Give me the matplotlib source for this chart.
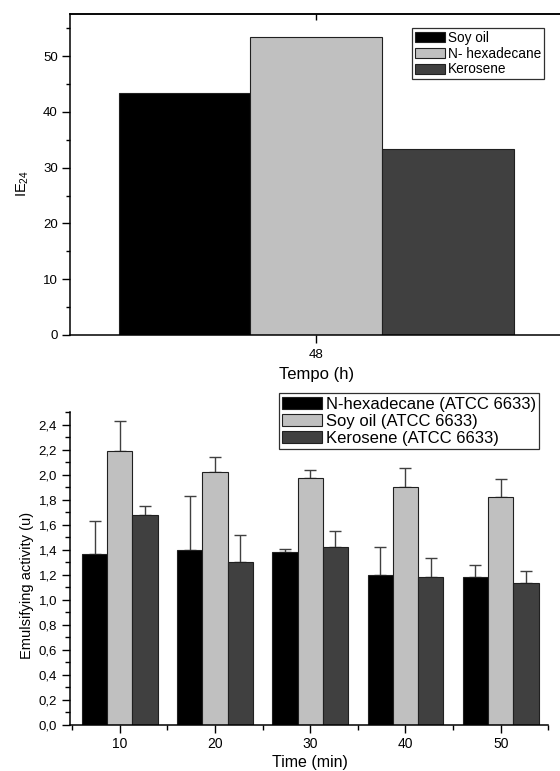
import numpy as np
import matplotlib
matplotlib.use("Agg")
import matplotlib.pyplot as plt
from matplotlib.ticker import MultipleLocator, FixedLocator

plt.rcParams['font.family'] = ['Liberation Sans', 'DejaVu Sans']
plt.rcParams['mathtext.default'] = 'regular'

# top panel: IE24 at 48 h
top_labels = ["Soy oil", "N- hexadecane", "Kerosene"]
top_values = [43.4, 53.4, 33.3]
top_time = 48

# bottom panel: emulsifying activity vs time
times = [10, 20, 30, 40, 50]
bot_labels = ["N-hexadecane (ATCC 6633)", "Soy oil (ATCC 6633)", "Kerosene (ATCC 6633)"]
hexa = [1.37, 1.40, 1.38, 1.20, 1.18]
hexa_err = [0.26, 0.43, 0.024, 0.22, 0.096]
soy = [2.19, 2.02, 1.975, 1.90, 1.82]
soy_err = [0.24, 0.12, 0.06, 0.155, 0.147]
kero = [1.675, 1.30, 1.42, 1.18, 1.135]
kero_err = [0.075, 0.216, 0.134, 0.152, 0.093]
ytick_vals = [0.0, 0.2, 0.4, 0.6, 0.8, 1.0, 1.2, 1.4, 1.6, 1.8, 2.0, 2.2, 2.4]
ytick_text = ["0,0", "0,2", "0,4", "0,6", "0,8", "1,0", "1,2", "1,4", "1,6", "1,8", "2,0", "2,2", "2,4"]

colors = ["#000000", "#c0c0c0", "#404040"]

W, H = 560, 771
fig = plt.figure(figsize=(W / 100, H / 100), dpi=100)

def px(x0, y0, x1, y1):
    return [x0 / W, 1 - y1 / H, (x1 - x0) / W, (y1 - y0) / H]

# ---- top panel
ax1 = fig.add_axes(px(70.3, 14, 562, 334.7))
offsets = [-1, 0, 1]
for off, v, c, lab in zip(offsets, top_values, colors, top_labels):
    ax1.bar(top_time + off, v, width=1.0, color=c, edgecolor="#202020", linewidth=0.8, label=lab)
ax1.set_xlim(46.134, 49.866)
ax1.set_ylim(0, 57.6)
ax1.set_xticks([top_time])
ax1.set_xticklabels([str(top_time)])
ax1.yaxis.set_major_locator(MultipleLocator(10))
ax1.yaxis.set_minor_locator(MultipleLocator(5))
ax1.tick_params(axis="y", which="major", direction="out", length=6, width=1, labelsize=9.5, pad=3)
ax1.tick_params(axis="y", which="minor", direction="out", length=3, width=1)
ax1.tick_params(axis="x", which="major", direction="out", length=6, width=1, labelsize=9.5, pad=4)
top_ax = ax1.secondary_xaxis("top")
top_ax.set_xticks([top_time])
top_ax.set_xticklabels([])
top_ax.tick_params(direction="in", length=4, width=1)
top_ax.spines["top"].set_linewidth(1.1)
ax1.spines["right"].set_visible(False)
for s in ["left", "bottom", "top"]:
    ax1.spines[s].set_linewidth(1.1)
ax1.set_ylabel("IE$_{24}$", fontsize=10.5)
ax1.yaxis.set_label_coords(-0.08, 0.47)
ax1.set_xlabel("Tempo (h)", fontsize=12)
ax1.xaxis.set_label_coords((317 - 70.3) / 491.7, -(367 - 334.7) / 320.7)
leg1 = ax1.legend(loc="upper left", bbox_to_anchor=(412.3 / W, 1 - 28.3 / H),
                  bbox_transform=fig.transFigure, borderaxespad=0, fancybox=False,
                  fontsize=9.8, handlelength=2.2, handleheight=0.75, handletextpad=0.25,
                  labelspacing=0.12, borderpad=0.2, framealpha=1)
leg1.get_frame().set_edgecolor("#303030")
leg1.get_frame().set_linewidth(0.9)

# ---- bottom panel
ax2 = fig.add_axes(px(70.3, 412.3, 548.3, 724.7))
bw = 2.65
x = np.array(times, dtype=float)
series = [(hexa, hexa_err), (soy, soy_err), (kero, kero_err)]
for i, ((vals, errs), c, lab) in enumerate(zip(series, colors, bot_labels)):
    pos = x + (i - 1) * bw
    ax2.bar(pos, vals, width=bw, color=c, edgecolor="#202020", linewidth=0.8, label=lab, zorder=2)
    ax2.errorbar(pos, vals, yerr=[np.zeros(len(errs)), errs], fmt="none", ecolor="#404040",
                 elinewidth=1.0, capsize=4, capthick=1.0, zorder=1)
ax2.set_xlim(4.8, 55)
ax2.set_ylim(0, 2.5)
ax2.set_xticks(times)
ax2.xaxis.set_minor_locator(FixedLocator([5, 15, 25, 35, 45, 55]))
ax2.set_yticks(ytick_vals)
ax2.set_yticklabels(ytick_text)
ax2.yaxis.set_minor_locator(MultipleLocator(0.1))
ax2.tick_params(which="major", direction="out", length=6, width=1, labelsize=9.5)
ax2.tick_params(which="minor", direction="out", length=3.5, width=1)
ax2.tick_params(axis="x", pad=3, labelsize=10)
ax2.spines["right"].set_visible(False)
ax2.spines["top"].set_visible(False)
for s in ["left", "bottom"]:
    ax2.spines[s].set_linewidth(1.1)
ax2.set_ylabel("Emulsifying activity (u)", fontsize=10.5)
ax2.yaxis.set_label_coords(-0.075, 0.447)
ax2.set_xlabel("Time (min)", fontsize=11.5)
ax2.xaxis.set_label_coords(0.5 - (309.3 - 310) / 478, -(754.5 - 724.7) / 312.4)
leg2 = ax2.legend(loc="upper left", bbox_to_anchor=(279 / W, 1 - 393.3 / H),
                  bbox_transform=fig.transFigure, borderaxespad=0, fancybox=False,
                  fontsize=12, handlelength=2.4, handleheight=0.75, handletextpad=0.2,
                  labelspacing=0.12, borderpad=0.2, framealpha=1)
leg2.get_frame().set_edgecolor("#303030")
leg2.get_frame().set_linewidth(0.9)

fig.savefig("out.png", dpi=100)
